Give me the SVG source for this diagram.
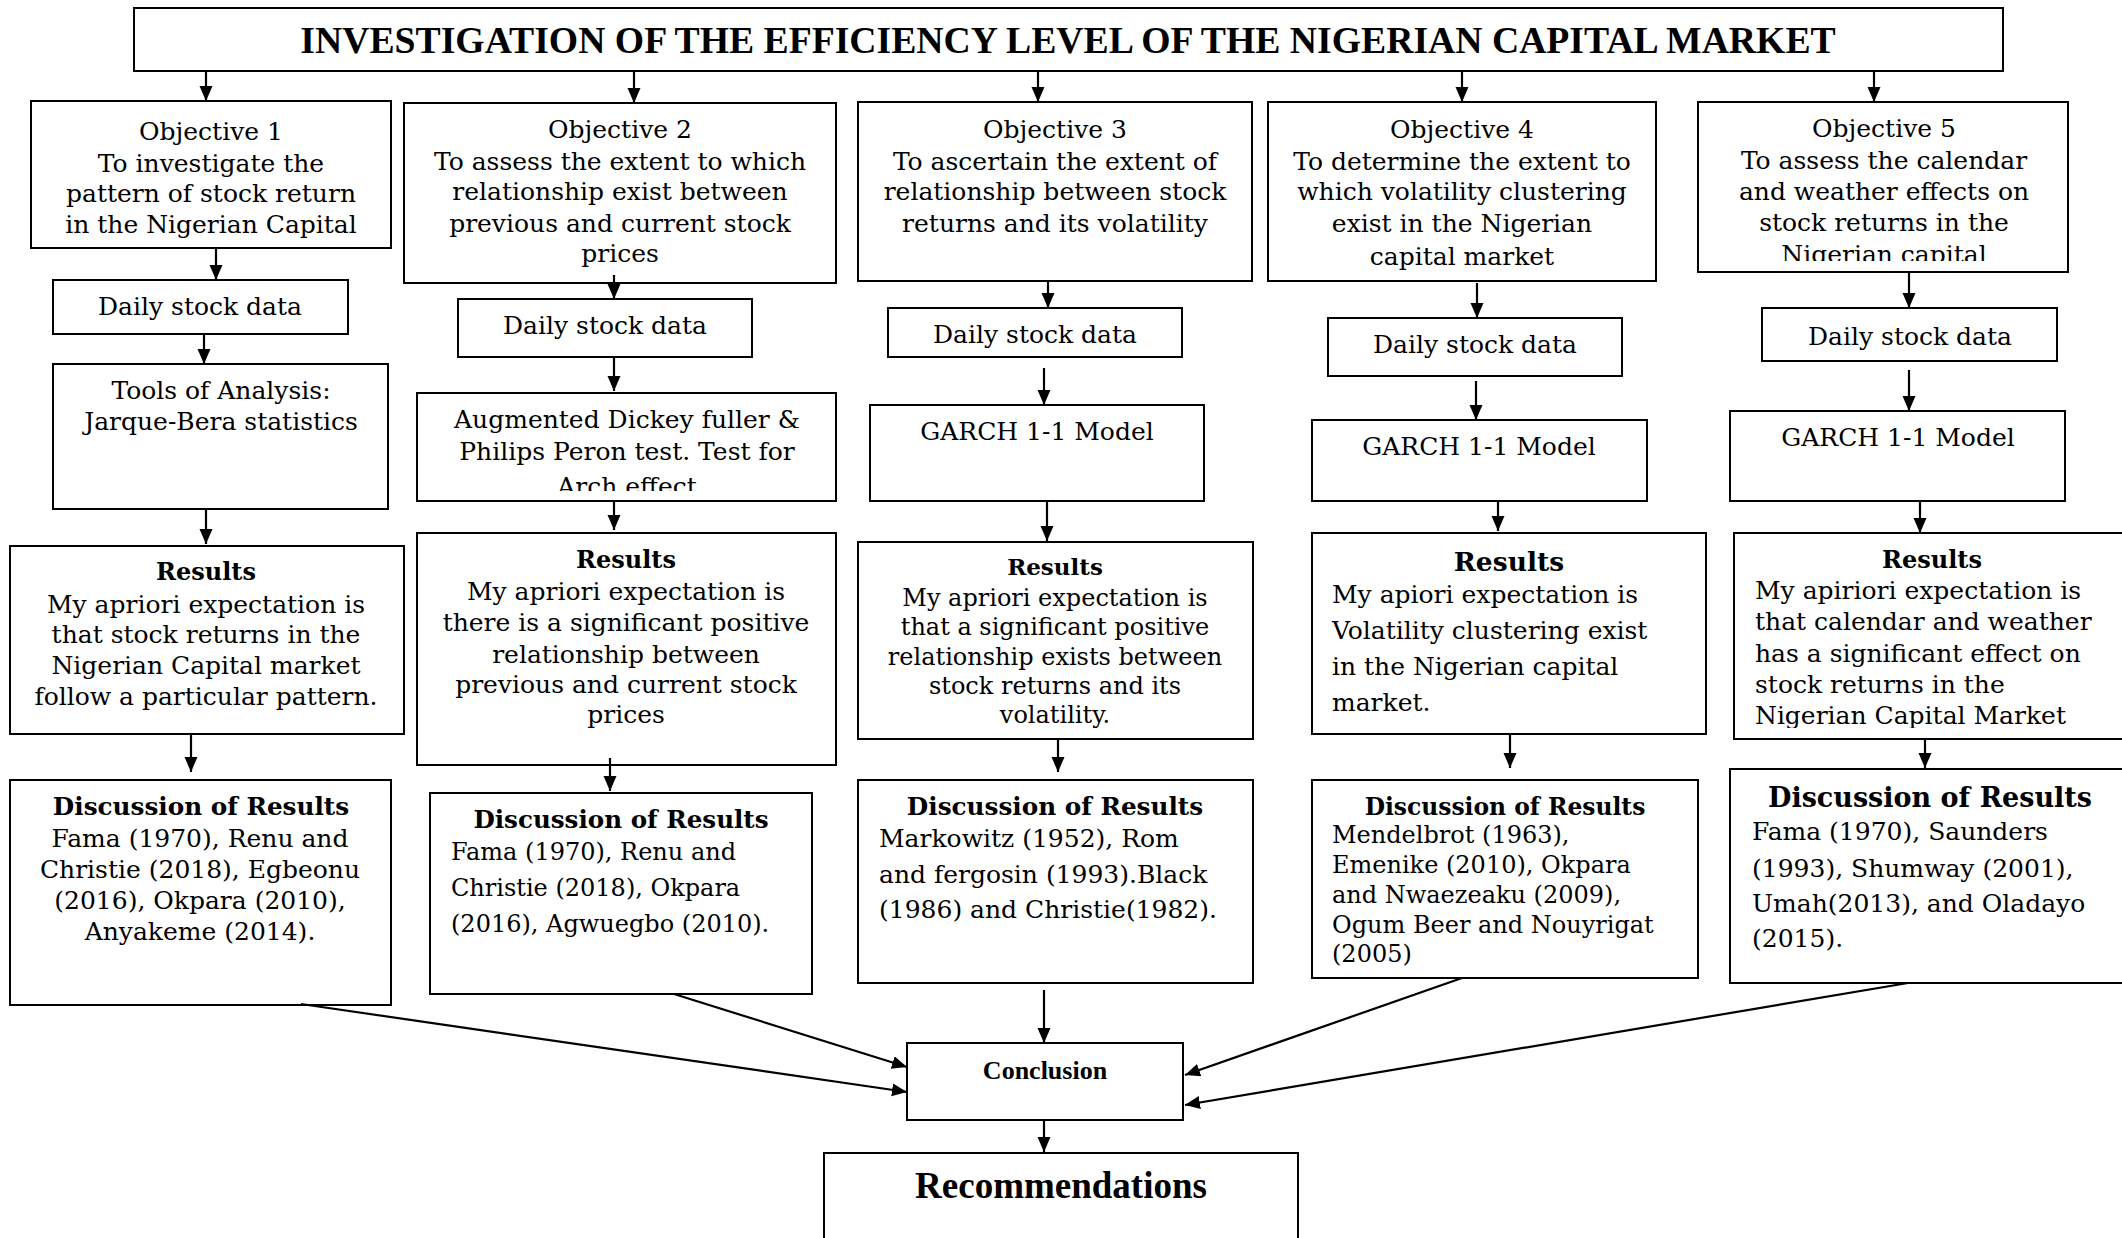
<svg xmlns="http://www.w3.org/2000/svg" width="2122" height="1238" viewBox="0 0 2122 1238">
<style>
.box{fill:#fff;stroke:#000;stroke-width:2}
.t{font-family:"DejaVu Serif","Liberation Serif",serif;font-size:25px;fill:#000}
.s24{font-size:24px}
.c{text-anchor:middle}
.b{font-weight:bold}
.tm{font-family:"Liberation Serif","Times New Roman",serif;font-weight:bold;fill:#000;text-anchor:middle}
.conn line{stroke:#000;stroke-width:2.2;fill:none;marker-end:url(#ah)}
</style>
<defs>
<marker id="ah" markerUnits="userSpaceOnUse" markerWidth="16" markerHeight="14" refX="15" refY="6.5" orient="auto">
<path d="M0,0 L15,6.5 L0,13 z" fill="#000"/>
</marker>
<clipPath id="clipO5"><rect x="1698" y="102" width="370" height="159"/></clipPath>
<clipPath id="clipT2"><rect x="417" y="393" width="419" height="98"/></clipPath>
<clipPath id="clipR5"><rect x="1734" y="533" width="400" height="195"/></clipPath>
</defs>
<rect width="2122" height="1238" fill="#fff"/>

<g id="title">
<rect class="box" x="134" y="8" width="1869" height="63"/>
<text class="tm" x="1068" y="53" style="font-size:37.7px">INVESTIGATION OF THE EFFICIENCY LEVEL OF THE NIGERIAN CAPITAL MARKET</text>
</g>

<g id="obj1">
<rect class="box" x="31" y="101" width="360" height="147"/>
<text class="t c" x="211" y="140">Objective 1</text>
<text class="t c" x="211" y="172">To investigate the</text>
<text class="t c" x="211" y="202">pattern of stock return</text>
<text class="t c" x="211" y="233">in the Nigerian Capital</text>
</g>
<g id="obj2">
<rect class="box" x="404" y="103" width="432" height="180"/>
<text class="t c" x="620" y="138">Objective 2</text>
<text class="t c" x="620" y="170">To assess the extent to which</text>
<text class="t c" x="620" y="200">relationship exist between</text>
<text class="t c" x="620" y="232">previous and current stock</text>
<text class="t c" x="620" y="262">prices</text>
</g>
<g id="obj3">
<rect class="box" x="858" y="102" width="394" height="179"/>
<text class="t c" x="1055" y="138">Objective 3</text>
<text class="t c" x="1055" y="170">To ascertain the extent of</text>
<text class="t c" x="1055" y="200">relationship between stock</text>
<text class="t c" x="1055" y="232">returns and its volatility</text>
</g>
<g id="obj4">
<rect class="box" x="1268" y="102" width="388" height="179"/>
<text class="t c" x="1462" y="138">Objective 4</text>
<text class="t c" x="1462" y="170">To determine the extent to</text>
<text class="t c" x="1462" y="200">which volatility clustering</text>
<text class="t c" x="1462" y="232">exist in the Nigerian</text>
<text class="t c" x="1462" y="265">capital market</text>
</g>
<g id="obj5">
<rect class="box" x="1698" y="102" width="370" height="170"/>
<g clip-path="url(#clipO5)">
<text class="t c" x="1884" y="137">Objective 5</text>
<text class="t c" x="1884" y="169">To assess the calendar</text>
<text class="t c" x="1884" y="200">and weather effects on</text>
<text class="t c" x="1884" y="231">stock returns in the</text>
<text class="t c" x="1884" y="263">Nigerian capital</text>
</g>
</g>

<g id="data1"><rect class="box" x="53" y="280" width="295" height="54"/><text class="t c" x="200" y="315">Daily stock data</text></g>
<g id="data2"><rect class="box" x="458" y="299" width="294" height="58"/><text class="t c" x="605" y="334">Daily stock data</text></g>
<g id="data3"><rect class="box" x="888" y="308" width="294" height="49"/><text class="t c" x="1035" y="343">Daily stock data</text></g>
<g id="data4"><rect class="box" x="1328" y="318" width="294" height="58"/><text class="t c" x="1475" y="353">Daily stock data</text></g>
<g id="data5"><rect class="box" x="1762" y="308" width="295" height="53"/><text class="t c" x="1910" y="345">Daily stock data</text></g>

<g id="tools1">
<rect class="box" x="53" y="364" width="335" height="145"/>
<text class="t c" x="221" y="399">Tools of Analysis:</text>
<text class="t c" x="221" y="430">Jarque-Bera statistics</text>
</g>
<g id="tools2">
<rect class="box" x="417" y="393" width="419" height="108"/>
<g clip-path="url(#clipT2)">
<text class="t c" x="627" y="428">Augmented Dickey fuller &amp;</text>
<text class="t c" x="627" y="460">Philips Peron test. Test for</text>
<text class="t c" x="627" y="495">Arch effect</text>
</g>
</g>
<g id="tools3"><rect class="box" x="870" y="405" width="334" height="96"/><text class="t c" x="1037" y="440">GARCH 1-1 Model</text></g>
<g id="tools4"><rect class="box" x="1312" y="420" width="335" height="81"/><text class="t c" x="1479" y="455">GARCH 1-1 Model</text></g>
<g id="tools5"><rect class="box" x="1730" y="411" width="335" height="90"/><text class="t c" x="1898" y="446">GARCH 1-1 Model</text></g>

<g id="results1">
<rect class="box" x="10" y="546" width="394" height="188"/>
<text class="t c b s24" x="206" y="580">Results</text>
<text class="t c" x="206" y="613">My apriori expectation is</text>
<text class="t c" x="206" y="643">that stock returns in the</text>
<text class="t c" x="206" y="674">Nigerian Capital market</text>
<text class="t c" x="206" y="705">follow a particular pattern.</text>
</g>
<g id="results2">
<rect class="box" x="417" y="533" width="419" height="232"/>
<text class="t c b s24" x="626" y="568">Results</text>
<text class="t c" x="626" y="600">My apriori expectation is</text>
<text class="t c" x="626" y="631">there is a significant positive</text>
<text class="t c" x="626" y="663">relationship between</text>
<text class="t c" x="626" y="693">previous and current stock</text>
<text class="t c" x="626" y="723">prices</text>
</g>
<g id="results3">
<rect class="box" x="858" y="542" width="395" height="197"/>
<text class="t c b" x="1055" y="575" style="font-size:23px">Results</text>
<text class="t c s24" x="1055" y="606">My apriori expectation is</text>
<text class="t c s24" x="1055" y="635">that a significant positive</text>
<text class="t c s24" x="1055" y="665">relationship exists between</text>
<text class="t c s24" x="1055" y="694">stock returns and its</text>
<text class="t c s24" x="1055" y="723">volatility.</text>
</g>
<g id="results4">
<rect class="box" x="1312" y="533" width="394" height="201"/>
<text class="t c b" x="1509" y="571" style="font-size:26.5px">Results</text>
<text class="t" x="1332" y="603">My apiori expectation is</text>
<text class="t" x="1332" y="639">Volatility clustering exist</text>
<text class="t" x="1332" y="675">in the Nigerian capital</text>
<text class="t" x="1332" y="711">market.</text>
</g>
<g id="results5">
<rect class="box" x="1734" y="533" width="400" height="206"/>
<text class="t c b s24" x="1932" y="568">Results</text>
<g clip-path="url(#clipR5)">
<text class="t" x="1755" y="599">My apiriori expectation is</text>
<text class="t" x="1755" y="630">that calendar and weather</text>
<text class="t" x="1755" y="662">has a significant effect on</text>
<text class="t" x="1755" y="693">stock returns in the</text>
<text class="t" x="1755" y="724">Nigerian Capital Market</text>
</g>
</g>

<g id="discussion1">
<rect class="box" x="10" y="780" width="381" height="225"/>
<text class="t c b" x="201" y="815" style="font-size:24.7px">Discussion of Results</text>
<text class="t c" x="200" y="847">Fama (1970), Renu and</text>
<text class="t c" x="200" y="878">Christie (2018), Egbeonu</text>
<text class="t c" x="200" y="909">(2016), Okpara (2010),</text>
<text class="t c" x="200" y="940">Anyakeme (2014).</text>
</g>
<g id="discussion2">
<rect class="box" x="430" y="793" width="382" height="201"/>
<text class="t c b" x="621" y="828" style="font-size:24.6px">Discussion of Results</text>
<text class="t s24" x="451" y="860">Fama (1970), Renu and</text>
<text class="t s24" x="451" y="896">Christie (2018), Okpara</text>
<text class="t s24" x="451" y="932">(2016), Agwuegbo (2010).</text>
</g>
<g id="discussion3">
<rect class="box" x="858" y="780" width="395" height="203"/>
<text class="t c b" x="1055" y="815" style="font-size:24.7px">Discussion of Results</text>
<text class="t" x="879" y="847">Markowitz (1952), Rom</text>
<text class="t" x="879" y="883">and fergosin (1993).Black</text>
<text class="t" x="879" y="918">(1986) and Christie(1982).</text>
</g>
<g id="discussion4">
<rect class="box" x="1312" y="780" width="386" height="198"/>
<text class="t c b" x="1505" y="815" style="font-size:23.4px">Discussion of Results</text>
<text class="t s24" x="1332" y="843">Mendelbrot (1963),</text>
<text class="t s24" x="1332" y="873">Emenike (2010), Okpara</text>
<text class="t s24" x="1332" y="903">and Nwaezeaku (2009),</text>
<text class="t s24" x="1332" y="933">Ogum Beer and Nouyrigat</text>
<text class="t s24" x="1332" y="962">(2005)</text>
</g>
<g id="discussion5">
<rect class="box" x="1730" y="769" width="404" height="214"/>
<text class="t c b" x="1930" y="807" style="font-size:27px">Discussion of Results</text>
<text class="t" x="1752" y="840">Fama (1970), Saunders</text>
<text class="t" x="1752" y="877">(1993), Shumway (2001),</text>
<text class="t" x="1752" y="912">Umah(2013), and Oladayo</text>
<text class="t" x="1752" y="947">(2015).</text>
</g>

<g id="conclusion">
<rect class="box" x="907" y="1043" width="276" height="77"/>
<text class="tm" x="1045" y="1079" style="font-size:26px">Conclusion</text>
</g>
<g id="recommendations">
<rect class="box" x="824" y="1153" width="474" height="100"/>
<text class="tm" x="1061" y="1198" style="font-size:37px">Recommendations</text>
</g>

<g id="connectors" class="conn">
<line x1="206" y1="71" x2="206" y2="101"/>
<line x1="634" y1="71" x2="634" y2="103"/>
<line x1="1038" y1="71" x2="1038" y2="102"/>
<line x1="1462" y1="71" x2="1462" y2="102"/>
<line x1="1874" y1="71" x2="1874" y2="102"/>
<line x1="216" y1="248" x2="216" y2="280"/>
<line x1="614" y1="275" x2="614" y2="299"/>
<line x1="1048" y1="281" x2="1048" y2="308"/>
<line x1="1477" y1="283" x2="1477" y2="318"/>
<line x1="1909" y1="272" x2="1909" y2="308"/>
<line x1="204" y1="334" x2="204" y2="364"/>
<line x1="614" y1="358" x2="614" y2="391"/>
<line x1="1044" y1="368" x2="1044" y2="405"/>
<line x1="1476" y1="381" x2="1476" y2="420"/>
<line x1="1909" y1="370" x2="1909" y2="411"/>
<line x1="206" y1="509" x2="206" y2="544"/>
<line x1="614" y1="501" x2="614" y2="530"/>
<line x1="1047" y1="501" x2="1047" y2="541"/>
<line x1="1498" y1="501" x2="1498" y2="531"/>
<line x1="1920" y1="501" x2="1920" y2="533"/>
<line x1="191" y1="734" x2="191" y2="772"/>
<line x1="610" y1="758" x2="610" y2="791"/>
<line x1="1058" y1="739" x2="1058" y2="772"/>
<line x1="1510" y1="734" x2="1510" y2="768"/>
<line x1="1925" y1="739" x2="1925" y2="768"/>
<line x1="301" y1="1004" x2="907" y2="1092"/>
<line x1="674" y1="994" x2="907" y2="1067"/>
<line x1="1044" y1="990" x2="1044" y2="1043"/>
<line x1="1462" y1="978" x2="1185" y2="1075"/>
<line x1="1908" y1="983" x2="1185" y2="1105"/>
<line x1="1044" y1="1120" x2="1044" y2="1152"/>
</g>
</svg>
